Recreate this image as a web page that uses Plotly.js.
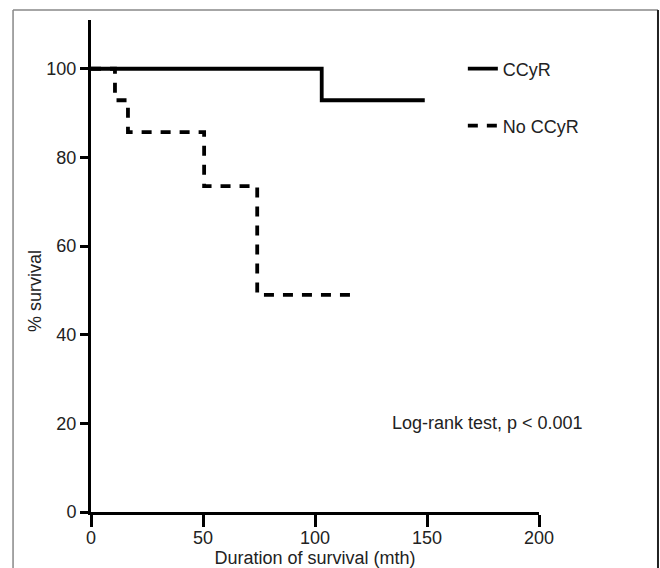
<!DOCTYPE html>
<html>
<head>
<meta charset="utf-8">
<script src="https://cdn.plot.ly/plotly-3.0.1.min.js"></script>
<style>
html,body{margin:0;padding:0;background:#fff;}
#chart{width:660px;height:568px;}
</style>
</head>
<body>
<div id="chart"></div>
<script>
// Kaplan-Meier step data
const ccyrTime = [0, 103, 149];
const ccyrSurv = [100, 92.9, 92.9];
const noCcyrTime = [0, 10.7, 16.5, 50.5, 74.2, 119];
const noCcyrSurv = [100, 92.9, 85.7, 73.5, 49, 49];
const xTicks = [0, 50, 100, 150, 200];
const yTicks = [0, 20, 40, 60, 80, 100];
const seriesNames = ["CCyR", "No CCyR"];
const xTitle = "Duration of survival (mth)";
const yTitle = "% survival";
const noteText = "Log-rank test, p < 0.001";

const FONT = "Liberation Sans, Arial, sans-serif";
const TXT = "#222";

const traces = [
  {x: ccyrTime, y: ccyrSurv, name: seriesNames[0], mode: "lines",
   line: {shape: "hv", color: "#000", width: 3.8}, legend: "legend"},
  {x: noCcyrTime, y: noCcyrSurv, name: seriesNames[1], mode: "lines",
   line: {shape: "hv", color: "#000", width: 3.8, dash: "10px,9px"}, legend: "legend2"}
];

const legendCommon = {
  xanchor: "left", yanchor: "middle", bgcolor: "rgba(0,0,0,0)",
  borderwidth: 0, font: {family: FONT, size: 18, color: TXT}
};

const layout = {
  width: 660, height: 568,
  margin: {l: 91, r: 121, t: 20, b: 56},
  paper_bgcolor: "#fff", plot_bgcolor: "#fff",
  showlegend: true,
  legend: Object.assign({x: 0.83, y: 0.9004}, legendCommon),
  legend2: Object.assign({x: 0.83, y: 0.7846}, legendCommon),
  xaxis: {
    range: [0, 200], tickvals: xTicks, ticktext: xTicks.map(String),
    showgrid: false, zeroline: false, showline: true, linecolor: "#000", linewidth: 3,
    ticks: "outside", ticklen: 12, tickwidth: 3, tickcolor: "#000",
    ticklabelstandoff: -5,
    tickfont: {family: FONT, size: 18, color: TXT},
    title: {text: xTitle, font: {family: FONT, size: 18, color: TXT}, standoff: 6},
    automargin: false
  },
  yaxis: {
    range: [0, 111], tickvals: yTicks, ticktext: yTicks.map(String),
    showgrid: false, zeroline: false, showline: true, linecolor: "#000", linewidth: 3,
    ticks: "outside", ticklen: 8, tickwidth: 3, tickcolor: "#000",
    tickfont: {family: FONT, size: 18, color: TXT},
    automargin: false
  },
  annotations: [
    {text: noteText, xref: "paper", yref: "paper", x: 0.6674, y: 0.1809,
     xanchor: "left", yanchor: "middle", showarrow: false,
     font: {family: FONT, size: 18, color: TXT}},
    {text: yTitle, xref: "paper", yref: "paper", x: -0.125, y: 0.449,
     xanchor: "center", yanchor: "middle", textangle: -90, showarrow: false,
     font: {family: FONT, size: 18, color: TXT}}
  ],
  shapes: [
    {type: "line", xref: "paper", yref: "paper", x0: -0.174, x1: 1.2656, y0: 1.0203, y1: 1.0203,
     line: {color: "#888", width: 1.5}},
    {type: "line", xref: "paper", yref: "paper", x0: -0.174, x1: -0.174, y0: 1.0203, y1: -0.2,
     line: {color: "#888", width: 1.5}},
    {type: "line", xref: "paper", yref: "paper", x0: 1.2656, x1: 1.2656, y0: 1.0203, y1: -0.2,
     line: {color: "#222", width: 2}}
  ]
};

Plotly.newPlot("chart", traces, layout, {displayModeBar: false, staticPlot: true});
</script>
</body>
</html>
